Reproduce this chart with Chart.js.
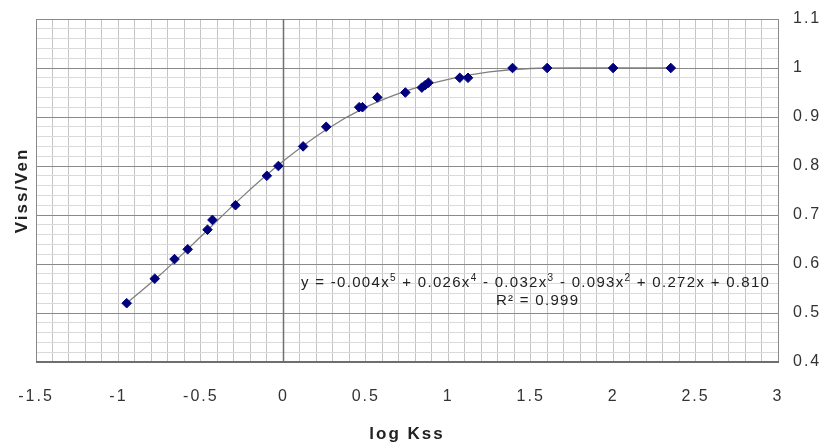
<!DOCTYPE html>
<html>
<head>
<meta charset="utf-8">
<script src="https://cdn.jsdelivr.net/npm/chart.js@4.4.1/dist/chart.umd.min.js"></script>
<style>
  html, body { margin: 0; padding: 0; background: #fff; }
  #wrap { width: 824px; height: 446px; position: relative; }
</style>
</head>
<body>
<div id="wrap"><canvas id="chart"></canvas></div>
<script>
// measured points (log Kss vs Viss/Ven)
const logKss = [-0.95, -0.78, -0.66, -0.58, -0.46, -0.43, -0.29, -0.10, -0.03, 0.12, 0.26, 0.46, 0.48, 0.57, 0.74, 0.84, 0.86, 0.88, 1.07, 1.12, 1.39, 1.60, 2.00, 2.35];
const vissVen = [0.52, 0.57, 0.61, 0.63, 0.67, 0.69, 0.72, 0.78, 0.80, 0.84, 0.88, 0.92, 0.92, 0.94, 0.95, 0.96, 0.965, 0.97, 0.98, 0.98, 1.0, 1.0, 1.0, 1.0];

// trend curve
const trendX = [-0.95, -0.75, -0.5, -0.25, 0, 0.25, 0.5, 0.75, 1.0, 1.25, 1.5, 1.75, 2.0, 2.35];
const trendY = [0.52, 0.577, 0.656, 0.737, 0.81, 0.872, 0.92, 0.954, 0.977, 0.992, 0.999, 1.0, 1.0, 1.0];

// axis ranges / labels
const xMin = -1.5, xMax = 3, xStep = 0.1, xLabelEvery = 0.5;
const yMin = 0.4, yMax = 1.1, yStep = 0.02, yLabelEvery = 0.1;
const xTitle = "log Kss";
const yTitle = "Viss/Ven";
const eqParts = [
  ["y = -0.004x", false], ["5", true], [" + 0.026x", false], ["4", true],
  [" - 0.032x", false], ["3", true], [" - 0.093x", false], ["2", true],
  [" + 0.272x + 0.810", false]
];
const r2Text = "R\u00b2 = 0.999";

const FONT = "'Liberation Sans', Arial, sans-serif";

function isMultiple(v, step) {
  const r = v / step;
  return Math.abs(r - Math.round(r)) < 1e-6;
}

const spacingPlugin = {
  id: "spacing",
  beforeLayout(chart) { chart.ctx.letterSpacing = "2px"; },
  beforeDraw(chart) { chart.ctx.letterSpacing = "2px"; }
};

const framePlugin = {
  id: "frame",
  beforeDatasetsDraw(chart) {
    const { ctx, chartArea: a, scales } = chart;
    ctx.save();
    // plot border
    ctx.strokeStyle = "#8a8a8a";
    ctx.lineWidth = 1;
    ctx.strokeRect(a.left + 0.5, a.top + 0.5, a.right - a.left, a.bottom - a.top);
    // x = 0 axis line
    const x0 = Math.round(scales.x.getPixelForValue(0)) + 0.5;
    ctx.strokeStyle = "#707070";
    ctx.lineWidth = 1.5;
    ctx.beginPath();
    ctx.moveTo(x0, a.top);
    ctx.lineTo(x0, a.bottom);
    ctx.stroke();
    // bottom axis
    ctx.strokeStyle = "#6e6e6e";
    ctx.lineWidth = 2;
    ctx.beginPath();
    ctx.moveTo(a.left, a.bottom);
    ctx.lineTo(a.right + 1, a.bottom);
    ctx.stroke();
    ctx.restore();
  },
  afterDatasetsDraw(chart) {
    const { ctx, chartArea: a, scales } = chart;
    ctx.save();
    // trendline equation
    const cx = scales.x.getPixelForValue(1.53);
    const cy = scales.y.getPixelForValue(0.561);
    ctx.fillStyle = "#222";
    ctx.textBaseline = "middle";
    ctx.textAlign = "left";
    ctx.letterSpacing = "1.3px";
    const big = "15px " + FONT, small = "10px " + FONT;
    let total = 0;
    eqParts.forEach(([t, sup]) => { ctx.font = sup ? small : big; total += ctx.measureText(t).width; });
    let x = cx - total / 2;
    eqParts.forEach(([t, sup]) => {
      ctx.font = sup ? small : big;
      ctx.fillText(t, x, sup ? cy - 5 : cy);
      x += ctx.measureText(t).width;
    });
    ctx.font = big;
    ctx.textAlign = "center";
    ctx.fillText(r2Text, cx + 2, cy + 18);

    // y title on the left side
    ctx.letterSpacing = "2px";
    ctx.font = "bold 17px " + FONT;
    ctx.translate(a.left - 14, (a.top + a.bottom) / 2);
    ctx.rotate(-Math.PI / 2);
    ctx.textAlign = "center";
    ctx.fillText(yTitle, 0, 0);
    ctx.restore();
  }
};

new Chart(document.getElementById("chart"), {
  type: "scatter",
  data: {
    datasets: [
      {
        label: "data",
        data: logKss.map((x, i) => ({ x, y: vissVen[i] })),
        pointStyle: "rectRot",
        pointRadius: 4.8,
        backgroundColor: "#00007f",
        borderColor: "#00007f",
        borderWidth: 1,
        order: 0
      },
      {
        label: "trend",
        data: trendX.map((x, i) => ({ x, y: trendY[i] })),
        showLine: true,
        pointRadius: 0,
        borderColor: "#7f7f7f",
        borderWidth: 1.3,
        cubicInterpolationMode: "monotone",
        order: 1
      }
    ]
  },
  options: {
    responsive: true,
    maintainAspectRatio: false,
    animation: false,
    layout: { padding: { left: 36, top: 19, right: 0, bottom: 0 } },
    plugins: { legend: { display: false }, tooltip: { enabled: false } },
    scales: {
      x: {
        type: "linear",
        min: xMin, max: xMax,
        afterBuildTicks(scale) {
          const t = [];
          for (let i = 0; i <= Math.round((xMax - xMin) / xStep); i++) t.push({ value: +(xMin + i * xStep).toFixed(2) });
          scale.ticks = t;
        },
        afterFit(scale) { scale.height = 84; scale.paddingLeft = 0; scale.paddingRight = 0; },
        border: { display: false },
        grid: { color: "#c4c4c4", drawTicks: false },
        ticks: {
          autoSkip: false,
          maxRotation: 0,
          padding: 25,
          color: "#333",
          font: { family: FONT, size: 16 },
          callback: (v) => (isMultiple(v, xLabelEvery) ? String(+v.toFixed(1)) : "")
        },
        title: {
          display: true,
          text: xTitle,
          color: "#222",
          font: { family: FONT, size: 17, weight: "bold" },
          padding: { top: 20, bottom: 1 }
        }
      },
      y: {
        type: "linear",
        position: "right",
        min: yMin, max: yMax,
        afterBuildTicks(scale) {
          const t = [];
          for (let i = 0; i <= Math.round((yMax - yMin) / yStep); i++) t.push({ value: +(yMin + i * yStep).toFixed(3) });
          scale.ticks = t;
        },
        afterFit(scale) { scale.width = 46; scale.paddingTop = 0; scale.paddingBottom = 0; },
        border: { display: false },
        grid: {
          color: (c) => (isMultiple(c.tick.value, yLabelEvery) ? "#8a8a8a" : "#dadada"),
          drawTicks: false
        },
        ticks: {
          autoSkip: false,
          padding: 15,
          color: "#333",
          font: { family: FONT, size: 16 },
          callback: (v) => (isMultiple(v, yLabelEvery) ? String(+v.toFixed(1)) : "")
        }
      }
    }
  },
  plugins: [spacingPlugin, framePlugin]
});
</script>
</body>
</html>
